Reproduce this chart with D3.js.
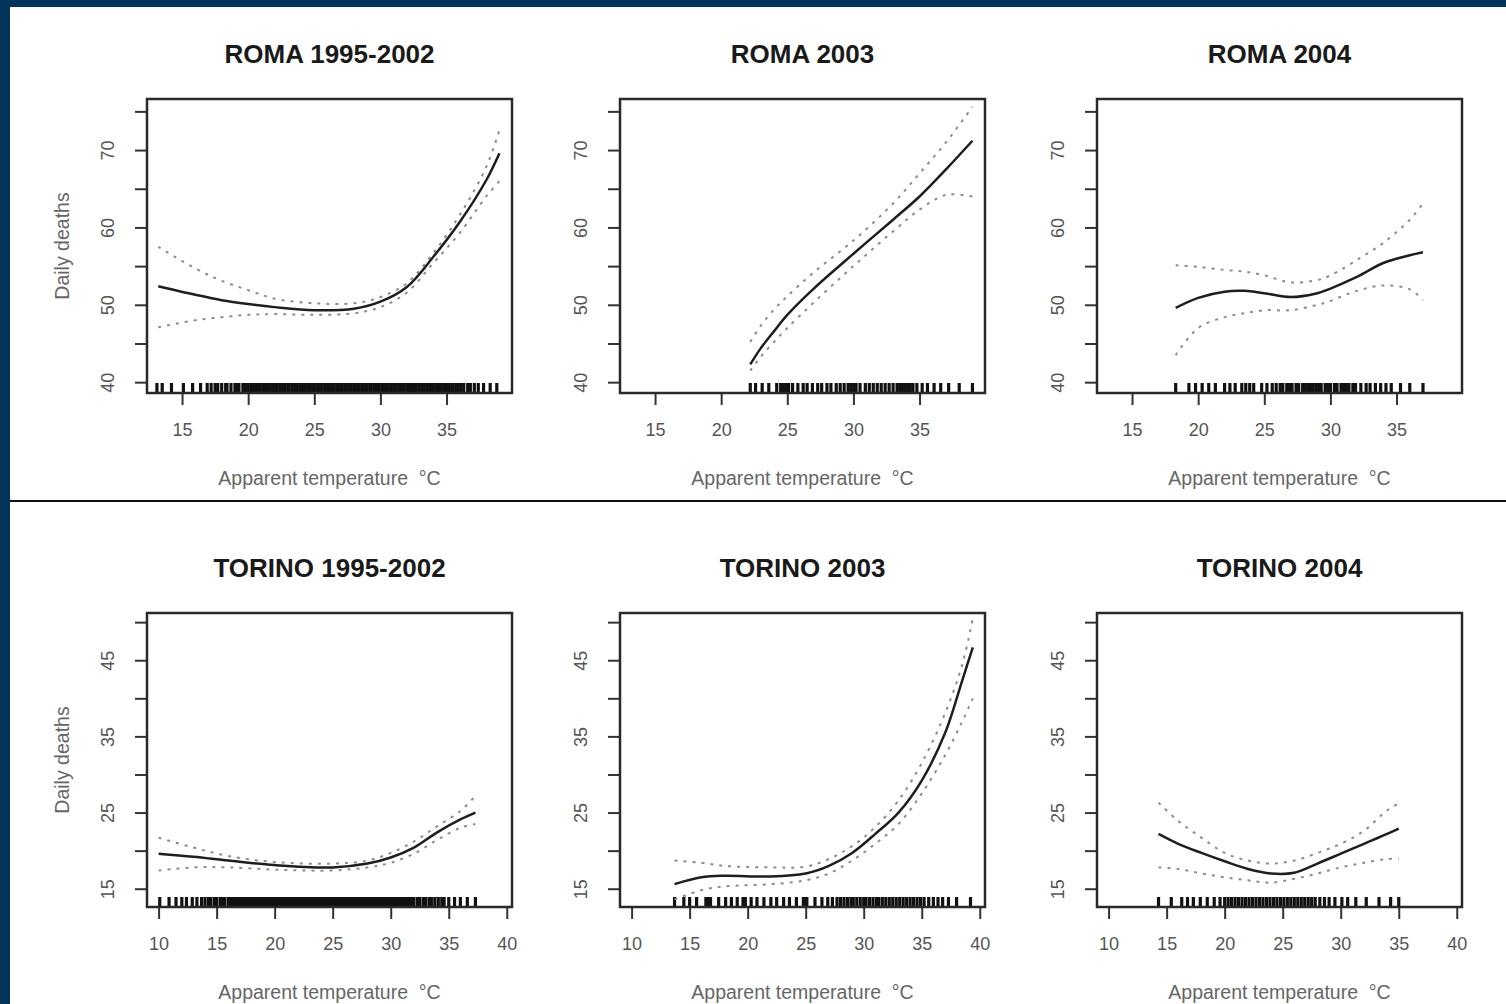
<!DOCTYPE html>
<html>
<head>
<meta charset="utf-8">
<script src="https://cdn.jsdelivr.net/npm/d3@7"></script>
<style>
    body{margin:0;background:#fff;}
    svg text{font-family:"Liberation Sans", Arial, sans-serif;}
</style>
</head>
<body>
<svg id="chart" width="1506" height="1004"></svg>
<script>

// ---- ROMA 1995-2002
var roma9502_t   = [13.2, 16, 18, 20, 22, 25, 28, 30, 32, 34, 36, 38, 39];
var roma9502_fit = [52.4, 51.3, 50.6, 50.1, 49.7, 49.3, 49.5, 50.4, 52.3, 56.2, 60.7, 66.1, 69.6];
var roma9502_hi  = [57.5, 54.7, 53.1, 51.9, 50.8, 50.2, 50.2, 51.0, 52.8, 56.7, 61.6, 67.8, 72.6];
var roma9502_lo  = [47.1, 48.0, 48.4, 48.7, 48.8, 48.7, 48.9, 49.7, 51.6, 55.4, 59.3, 64.0, 66.0];
var roma9502_rug = [13.1, 13.5, 14.2, 15.1, 15.8, 16.4, 16.9, 17.2, 17.5, 17.7, 18.0, 18.3, 18.4, 18.7, 19.0, 19.2, 19.3, 19.6, 19.8,
    20.0, 20.2, 20.4, 20.5, 20.7, 20.9, 21.1, 21.3, 21.5, 21.6, 21.8, 22.0, 22.2, 22.4, 22.6, 22.8, 23.0, 23.1, 23.3, 23.5, 23.7,
    23.9, 24.1, 24.3, 24.5, 24.6, 24.8, 25.0, 25.2, 25.4, 25.6, 25.8, 26.0, 26.2, 26.3, 26.5, 26.7, 26.9, 27.1, 27.3, 27.5, 27.7,
    27.8, 28.0, 28.2, 28.4, 28.6, 28.8, 29.0, 29.2, 29.3, 29.5, 29.7, 29.9, 30.1, 30.3, 30.5, 30.7, 30.8, 31.0, 31.2, 31.4, 31.6,
    31.8, 32.0, 32.2, 32.3, 32.5, 32.7, 32.9, 33.1, 33.3, 33.5, 33.7, 33.8, 34.0, 34.2, 34.4, 34.6, 34.8, 35.0, 35.2, 35.4, 35.5,
    35.7, 35.9, 36.1, 36.3, 36.6, 36.8, 37.1, 37.4, 37.8, 38.3, 38.8];

// ---- ROMA 2003
var roma2003_t   = [22.2, 23, 24, 25, 27, 30, 33, 35, 37, 39];
var roma2003_fit = [42.3, 44.4, 46.6, 48.7, 52.1, 56.6, 61.0, 64.0, 67.5, 71.2];
var roma2003_hi  = [45.2, 47.3, 49.4, 51.1, 54.2, 58.3, 63.1, 67.0, 71.0, 75.6];
var roma2003_lo  = [41.5, 43.3, 45.2, 47.0, 50.3, 55.0, 59.5, 62.3, 64.2, 64.0];
var roma2003_rug = [22.2, 22.6, 23.1, 23.6, 24.2, 24.5, 24.7, 24.9, 25.1, 25.4, 25.8, 26.2, 26.5, 26.9, 27.3, 27.6, 28.0, 28.3,
    28.7, 29.0, 29.3, 29.6, 29.8, 30.0, 30.2, 30.5, 30.9, 31.2, 31.5, 31.8, 32.1, 32.4, 32.7, 33.0, 33.3, 33.5, 33.7, 33.9, 34.1,
    34.3, 34.5, 34.8, 35.2, 35.6, 36.1, 36.6, 37.2, 38.0, 39.0];

// ---- ROMA 2004
var roma2004_t   = [18.3, 20, 22, 23.5, 25, 27, 29, 30, 32, 34, 36, 37];
var roma2004_fit = [49.6, 50.9, 51.7, 51.8, 51.5, 51.0, 51.5, 52.1, 53.6, 55.4, 56.4, 56.8];
var roma2004_hi  = [55.1, 54.9, 54.5, 54.3, 53.8, 52.9, 53.2, 53.8, 55.8, 58.0, 61.0, 63.1];
var roma2004_lo  = [43.5, 47.0, 48.4, 48.9, 49.3, 49.3, 50.0, 50.5, 51.8, 52.5, 52.0, 50.6];
var roma2004_rug = [18.3, 19.3, 19.8, 20.3, 20.8, 21.3, 22.0, 22.4, 22.8, 23.3, 23.6, 23.9, 24.2, 24.8, 25.2, 25.6, 25.9, 26.2,
    26.4, 26.7, 26.9, 27.1, 27.4, 27.6, 27.9, 28.1, 28.3, 28.5, 28.7, 28.9, 29.1, 29.3, 29.6, 29.8, 30.0, 30.3, 30.5, 30.8, 31.0,
    31.2, 31.4, 31.7, 31.9, 32.3, 32.7, 33.0, 33.4, 33.8, 34.2, 34.6, 35.3, 36.0, 37.0];

// ---- TORINO 1995-2002
var torino9502_t   = [10, 13, 16, 20, 25, 28, 30, 32, 34, 36, 37.3];
var torino9502_fit = [19.6, 19.2, 18.7, 18.1, 17.8, 18.3, 19.1, 20.4, 22.4, 24.1, 25.0];
var torino9502_hi  = [21.7, 20.4, 19.3, 18.5, 18.3, 18.7, 19.7, 21.2, 23.2, 25.2, 27.2];
var torino9502_lo  = [17.4, 17.8, 17.8, 17.5, 17.4, 17.8, 18.4, 19.6, 21.4, 23.0, 23.5];
var torino9502_rug = [10.1, 10.9, 11.5, 12.0, 12.4, 12.9, 13.3, 13.7, 14.0, 14.3, 14.5, 14.8, 15.0, 15.3, 15.5, 15.7, 16.0, 16.2,
    16.4, 16.6, 16.8, 17.0, 17.2, 17.4, 17.6, 17.8, 18.0, 18.2, 18.4, 18.6, 18.8, 19.0, 19.2, 19.4, 19.6, 19.8, 20.0, 20.2, 20.4,
    20.6, 20.8, 21.0, 21.2, 21.4, 21.6, 21.8, 22.0, 22.2, 22.4, 22.6, 22.8, 23.0, 23.2, 23.4, 23.6, 23.8, 24.0, 24.2, 24.4, 24.6,
    24.8, 25.0, 25.2, 25.4, 25.6, 25.8, 26.0, 26.2, 26.4, 26.6, 26.8, 27.0, 27.2, 27.4, 27.6, 27.8, 28.0, 28.2, 28.4, 28.6, 28.8,
    29.0, 29.2, 29.4, 29.6, 29.8, 30.0, 30.2, 30.4, 30.6, 30.8, 31.0, 31.2, 31.4, 31.6, 31.8, 32.0, 32.3, 32.5, 32.8, 33.0, 33.3,
    33.5, 33.8, 34.1, 34.4, 34.6, 35.0, 35.5, 36.0, 36.6, 37.3];

// ---- TORINO 2003
var torino2003_t   = [13.7, 16, 18, 22, 25, 27, 29, 31, 33, 35, 37, 38.5, 39.4];
var torino2003_fit = [15.6, 16.5, 16.7, 16.6, 17.0, 18.0, 19.7, 22.2, 25.0, 29.2, 35.4, 42.4, 46.7];
var torino2003_hi  = [18.7, 18.4, 18.0, 17.8, 17.9, 18.9, 20.6, 23.1, 26.6, 31.5, 38.0, 44.5, 50.5];
var torino2003_lo  = [13.6, 14.8, 15.3, 15.6, 16.1, 17.0, 18.7, 20.9, 23.5, 27.5, 32.5, 37.0, 40.0];
var torino2003_rug = [13.7, 14.5, 15.0, 15.6, 16.4, 16.6, 16.8, 17.5, 18.1, 18.6, 19.1, 19.6, 19.8, 20.3, 20.8, 21.4, 22.0, 22.5,
    23.1, 23.6, 24.2, 24.8, 24.95, 25.1, 25.8, 26.4, 26.9, 27.3, 27.7, 28.0, 28.3, 28.6, 28.9, 29.1, 29.4, 29.7, 30.0, 30.2, 30.5,
    30.8, 31.1, 31.3, 31.6, 31.9, 32.2, 32.5, 32.8, 33.1, 33.4, 33.7, 34.0, 34.3, 34.6, 34.9, 35.2, 35.6, 36.0, 36.4, 36.8, 37.3,
    38.0, 39.2];

// ---- TORINO 2004
var torino2004_t   = [14.3, 16, 18, 20, 22, 24, 26, 28, 30, 32, 34, 35];
var torino2004_fit = [22.2, 20.9, 19.7, 18.6, 17.6, 17.0, 17.1, 18.3, 19.6, 20.9, 22.2, 22.9];
var torino2004_hi  = [26.3, 23.9, 21.7, 19.7, 18.7, 18.3, 18.7, 19.7, 20.9, 22.6, 25.3, 26.2];
var torino2004_lo  = [17.8, 17.6, 17.0, 16.5, 16.1, 15.8, 16.3, 17.0, 17.8, 18.4, 18.9, 18.9];
var torino2004_rug = [14.3, 15.4, 16.3, 16.8, 17.3, 17.9, 18.5, 19.1, 19.6, 20.0, 20.3, 20.6, 20.9, 21.2, 21.5, 21.8, 22.1, 22.4,
    22.7, 23.0, 23.3, 23.6, 23.9, 24.2, 24.5, 24.8, 25.1, 25.4, 25.7, 26.0, 26.3, 26.6, 26.9, 27.2, 27.5, 27.8, 28.2, 28.6, 29.0,
    29.5, 30.1, 30.6, 31.3, 32.2, 33.3, 34.3, 35.0];

// axis ticks per row
var romaXTicks   = [15, 20, 25, 30, 35];
var romaYTicks   = [40, 45, 50, 55, 60, 65, 70, 75];
var romaYLabels  = [40, 50, 60, 70];
var torinoXTicks = [10, 15, 20, 25, 30, 35, 40];
var torinoYTicks = [15, 20, 25, 30, 35, 40, 45, 50];
var torinoYLabels= [15, 25, 35, 45];

var titles = ["ROMA 1995-2002", "ROMA 2003", "ROMA 2004", "TORINO 1995-2002", "TORINO 2003", "TORINO 2004"];

var WIDTH = 1506, HEIGHT = 1004;
var PANEL_W = 365, PANEL_H = 294;
var COL_X = [147, 620, 1097];
var ROW_Y = [99, 613];

var panels = [
    {row:0, col:0, t:roma9502_t, fit:roma9502_fit, hi:roma9502_hi, lo:roma9502_lo, rug:roma9502_rug},
    {row:0, col:1, t:roma2003_t, fit:roma2003_fit, hi:roma2003_hi, lo:roma2003_lo, rug:roma2003_rug},
    {row:0, col:2, t:roma2004_t, fit:roma2004_fit, hi:roma2004_hi, lo:roma2004_lo, rug:roma2004_rug},
    {row:1, col:0, t:torino9502_t, fit:torino9502_fit, hi:torino9502_hi, lo:torino9502_lo, rug:torino9502_rug},
    {row:1, col:1, t:torino2003_t, fit:torino2003_fit, hi:torino2003_hi, lo:torino2003_lo, rug:torino2003_rug},
    {row:1, col:2, t:torino2004_t, fit:torino2004_fit, hi:torino2004_hi, lo:torino2004_lo, rug:torino2004_rug}
];

var rows = [
    {xDomain:[12.35, 39.95], yDomain:[38.6, 76.6], xTicks:romaXTicks, yTicks:romaYTicks, yLabels:romaYLabels},
    {xDomain:[9.0, 40.45],   yDomain:[12.6, 51.2], xTicks:torinoXTicks, yTicks:torinoYTicks, yLabels:torinoYLabels}
];

var svg = d3.select("#chart");

svg.append("rect").attr("width", WIDTH).attr("height", HEIGHT).attr("fill", "#fff");

panels.forEach(function(p, i){
    var r = rows[p.row];
    var xScale = d3.scaleLinear().domain(r.xDomain).range([0, PANEL_W]);
    var yScale = d3.scaleLinear().domain(r.yDomain).range([PANEL_H, 0]);

    var g = svg.append("g")
        .attr("transform", "translate(" + COL_X[p.col] + "," + ROW_Y[p.row] + ")");

    // title
    g.append("text")
        .attr("x", PANEL_W/2).attr("y", -36)
        .attr("text-anchor", "middle")
        .attr("font-size", 26).attr("font-weight", "bold")
        .attr("fill", "#1a1a1a")
        .text(titles[i]);

    // x axis
    var xAxis = g.append("g")
        .attr("transform", "translate(0," + PANEL_H + ")")
        .call(d3.axisBottom(xScale).tickValues(r.xTicks).tickSize(12).tickFormat(d3.format("d")));
    xAxis.select(".domain").remove();
    xAxis.selectAll("line").attr("stroke", "#333").attr("stroke-width", 2);
    xAxis.selectAll("text")
        .attr("y", 37).attr("dy", "0.35em")
        .attr("font-size", 18).attr("fill", "#555")
        .attr("font-family", "\"Liberation Sans\", Arial, sans-serif");

    // y axis
    var yAxis = g.append("g")
        .call(d3.axisLeft(yScale).tickValues(r.yTicks).tickSize(12)
            .tickFormat(function(d){ return r.yLabels.indexOf(d) >= 0 ? d : ""; }));
    yAxis.select(".domain").remove();
    yAxis.selectAll("line").attr("stroke", "#333").attr("stroke-width", 2);
    yAxis.selectAll("text")
        .attr("x", 0).attr("y", 0).attr("dy", "0.35em")
        .attr("transform", "translate(-39,0) rotate(-90)")
        .attr("text-anchor", "middle")
        .attr("font-size", 18).attr("fill", "#555")
        .attr("font-family", "\"Liberation Sans\", Arial, sans-serif");

    // axis labels
    g.append("text")
        .attr("x", PANEL_W/2).attr("y", PANEL_H + 85).attr("dy", "0.35em")
        .attr("text-anchor", "middle")
        .attr("font-size", 19.5).attr("fill", "#666")
        .attr("xml:space", "preserve")
        .text("Apparent temperature  \u00b0C");

    if(p.col == 0){
        g.append("text")
            .attr("transform", "translate(-85," + PANEL_H/2 + ") rotate(-90)")
            .attr("dy", "0.35em")
            .attr("text-anchor", "middle")
            .attr("font-size", 19.5).attr("fill", "#666")
            .text("Daily deaths");
    }

    // rug
    g.append("g").selectAll("line")
        .data(p.rug)
        .enter().append("line")
        .attr("x1", function(d){ return xScale(d); })
        .attr("x2", function(d){ return xScale(d); })
        .attr("y1", PANEL_H).attr("y2", PANEL_H - 10)
        .attr("stroke", "#111").attr("stroke-width", 3.2);

    var rowsOf = function(arr){ return p.t.map(function(t, k){ return [t, arr[k]]; }); };
    var line = d3.line()
        .x(function(d){ return xScale(d[0]); })
        .y(function(d){ return yScale(d[1]); })
        .curve(d3.curveCatmullRom.alpha(0.5));

    [p.hi, p.lo].forEach(function(band){
        g.append("path")
            .attr("d", line(rowsOf(band)))
            .attr("fill", "none")
            .attr("stroke", "#8c8c8c").attr("stroke-width", 2)
            .attr("stroke-dasharray", "3,6");
    });

    g.append("path")
        .attr("d", line(rowsOf(p.fit)))
        .attr("fill", "none")
        .attr("stroke", "#1e1e1e").attr("stroke-width", 2.5);

    // box
    g.append("rect")
        .attr("width", PANEL_W).attr("height", PANEL_H)
        .attr("fill", "none")
        .attr("stroke", "#2a2a2a").attr("stroke-width", 2.5);
});

// row divider and dark frame
svg.append("line")
    .attr("x1", 10).attr("x2", WIDTH).attr("y1", 501).attr("y2", 501)
    .attr("stroke", "#111").attr("stroke-width", 2);
svg.append("rect").attr("x", 0).attr("y", 0).attr("width", WIDTH).attr("height", 7).attr("fill", "#04345a");
svg.append("rect").attr("x", 0).attr("y", 0).attr("width", 10).attr("height", HEIGHT).attr("fill", "#04345a");

</script>
</body>
</html>
